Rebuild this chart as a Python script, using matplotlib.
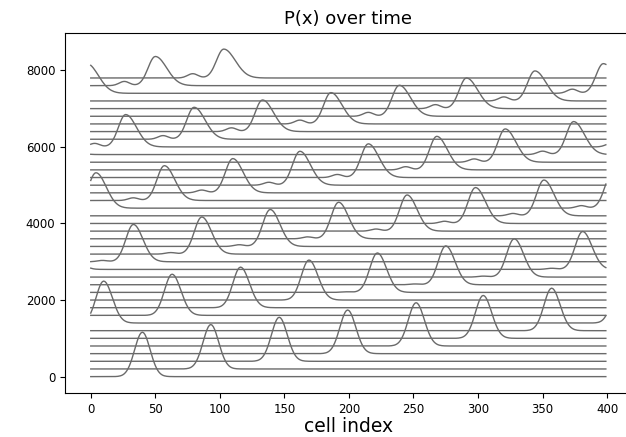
import numpy as np
import matplotlib
matplotlib.use("Agg")
import matplotlib.pyplot as plt

# ---- data ----
n_cells = 400
offset_step = 200            # vertical spacing between successive time steps
time_steps = list(range(40))

# position of the main peak at each time step (cell index, periodic on 0..400)
peak_center = [40, 93, 146, 199, 252, 304, 357, 10, 63, 116,
               169, 222, 275, 328, 381, 33, 86, 139, 192, 245,
               298, 351, 4, 57, 110, 162, 215, 268, 321, 374,
               27, 80, 133, 186, 239, 291, 344, 397, 50, 103]

# height of the main peak above its baseline
peak_height = [1160, 1160, 1150, 1140, 1130, 1120, 1110, 1095, 1075, 1060,
               1045, 1030, 1015, 1000, 990, 975, 970, 965, 955, 945,
               938, 935, 925, 910, 895, 886, 880, 876, 870, 862,
               845, 835, 826, 818, 810, 800, 785, 775, 762, 755]

# trailing-side (left) and leading-side (right) widths of the main peak, in cells
width_left = [6.0, 6.0, 6.0, 6.0, 6.0, 6.0, 5.9, 5.9, 5.9, 5.9,
              5.9, 5.9, 5.8, 5.8, 5.8, 5.8, 5.8, 5.8, 5.8, 5.7,
              5.7, 5.7, 5.7, 5.7, 5.7, 5.7, 5.7, 5.6, 5.6, 5.6,
              5.6, 5.6, 5.6, 5.6, 5.6, 5.6, 5.6, 5.6, 5.6, 5.6]
width_right = [6.0, 6.1, 6.2, 6.3, 6.4, 6.5, 6.6, 6.7, 6.8, 6.9,
               7.0, 7.1, 7.1, 7.2, 7.3, 7.4, 7.5, 7.5, 7.6, 7.7,
               7.8, 7.8, 7.9, 8.0, 8.0, 8.1, 8.2, 8.2, 8.3, 8.4,
               8.4, 8.5, 8.5, 8.6, 8.6, 8.7, 8.7, 8.8, 8.8, 8.9]

# small trailing ripple behind the main peak
ripple_height = [0, 0, 0, 0, 0, 0, 0, 0, 0, 0,
                 0, 15, 20, 25, 30, 35, 40, 45, 50, 55,
                 58, 62, 66, 70, 73, 76, 80, 83, 86, 89,
                 92, 95, 98, 100, 102, 104, 106, 108, 110, 112]
ripple_lag = 24
ripple_width = 4.0

x = np.arange(n_cells)


def periodic_dist(center):
    return (x - center + n_cells / 2) % n_cells - n_cells / 2


def main_peak(center, height, wl, wr):
    d = periodic_dist(center)
    w = np.where(d < 0, wl, wr)
    return height * np.exp(-0.5 * (d / w) ** 2)


def ripple(center, height, width):
    d = periodic_dist(center)
    return height * np.exp(-0.5 * (d / width) ** 2)


fig = plt.figure(figsize=(6.26, 4.37), dpi=100)
ax = fig.add_axes([65 / 626, (437 - 393) / 437, 566.6 / 626, (393 - 32.7) / 437])

for t in time_steps:
    p = main_peak(peak_center[t], peak_height[t], width_left[t], width_right[t])
    p += ripple(peak_center[t] - ripple_lag, ripple_height[t], ripple_width)
    ax.plot(x, p + offset_step * t, color="#6a6a6a", lw=1.0)

ax.spines["right"].set_visible(False)
ax.set_title("P(x) over time", fontsize=13)
ax.set_xlabel("cell index", fontsize=13.5, labelpad=1)
ax.tick_params(labelsize=8.5)
ax.set_xticks([0, 50, 100, 150, 200, 250, 300, 350, 400])
ax.set_yticks([0, 2000, 4000, 6000, 8000])

fig.savefig("out.png", dpi=100)
